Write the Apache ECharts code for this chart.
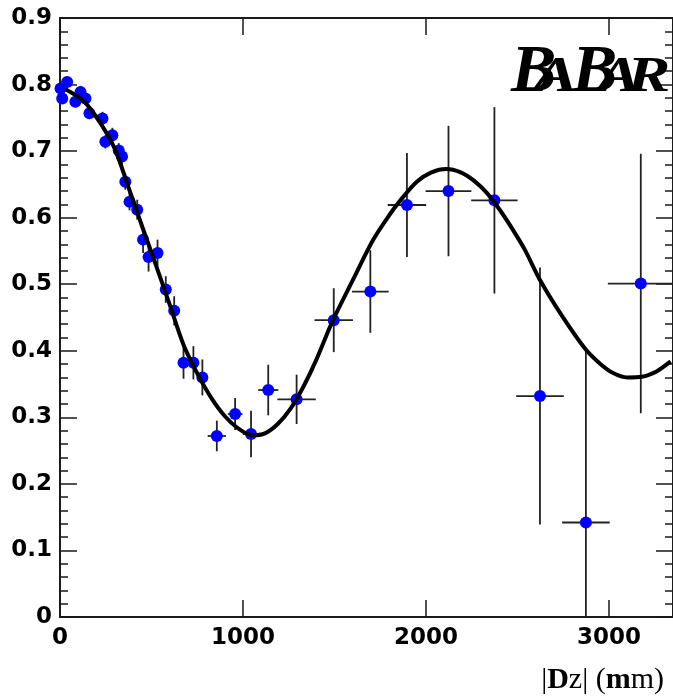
<!DOCTYPE html>
<html><head><meta charset="utf-8">
<script src="https://cdn.jsdelivr.net/npm/echarts@6/dist/echarts.min.js"></script>
<style>html,body{margin:0;padding:0;background:#fff}#c{width:673px;height:696px}</style>
</head><body><div id="c"></div>
<script>
// Tick labels
const xTickLabels = ['0', '1000', '2000', '3000'];
const yTickLabels = ['0', '0.1', '0.2', '0.3', '0.4', '0.5', '0.6', '0.7', '0.8', '0.9'];

// Data points (|Dz| bin centre, value) with errors
const pointX = [3, 39, 12, 84, 112, 139, 161, 232, 248, 286, 321, 339, 357, 380, 422, 454, 484, 533, 578, 624, 675, 729, 778, 857, 957, 1044, 1138, 1293, 1496, 1696, 1896, 2123, 2374, 2623, 2874, 3174];
const pointY = [0.794, 0.804, 0.779, 0.774, 0.789, 0.779, 0.757, 0.749, 0.714, 0.724, 0.701, 0.692, 0.654, 0.624, 0.612, 0.567, 0.541, 0.547, 0.492, 0.460, 0.382, 0.382, 0.360, 0.272, 0.305, 0.275, 0.341, 0.327, 0.446, 0.489, 0.619, 0.640, 0.626, 0.332, 0.142, 0.501];
const errX = [12, 12, 12, 12, 12, 12, 12, 15, 15, 15, 15, 15, 15, 20, 20, 20, 20, 25, 25, 25, 25, 25, 25, 50, 40, 45, 55, 105, 105, 100, 105, 125, 127, 130, 130, 180];
const errY = [0.008, 0.008, 0.008, 0.008, 0.009, 0.009, 0.009, 0.010, 0.010, 0.011, 0.011, 0.012, 0.012, 0.013, 0.015, 0.020, 0.022, 0.020, 0.020, 0.022, 0.024, 0.025, 0.027, 0.023, 0.024, 0.035, 0.038, 0.037, 0.048, 0.062, 0.078, 0.098, 0.140, 0.193, 0.257, 0.195];

// Fit curve
const fitX = [30, 130, 221, 300, 375, 450, 525, 600, 675, 750, 825, 900, 975, 1050, 1120, 1190, 1260, 1330, 1400, 1490, 1600, 1710, 1800, 1860, 1950, 2030, 2110, 2190, 2260, 2330, 2400, 2470, 2540, 2620, 2740, 2870, 2950, 3020, 3100, 3180, 3260, 3337];
const fitY = [0.793, 0.775, 0.742, 0.703, 0.645, 0.586, 0.528, 0.469, 0.409, 0.366, 0.330, 0.302, 0.283, 0.273, 0.276, 0.290, 0.313, 0.346, 0.386, 0.445, 0.506, 0.566, 0.604, 0.626, 0.654, 0.668, 0.673, 0.668, 0.656, 0.638, 0.613, 0.584, 0.552, 0.508, 0.454, 0.403, 0.381, 0.367, 0.360, 0.361, 0.369, 0.384];

const AX = '#1a1a1a';
const labelFont = {fontFamily: 'DejaVu Sans', fontWeight: 'bold', fontSize: 23, color: '#000'};

const chart = echarts.init(document.getElementById('c'), null, {renderer: 'canvas'});

const errData = pointX.map((x, i) => [x, pointY[i], errX[i], errY[i]]);
const ptData = pointX.map((x, i) => [x, pointY[i]]);
const fitData = fitX.map((x, i) => [x, fitY[i]]);

function xAxisDef(pos, showLabel) {
  return {
    type: 'value', min: 0, max: 3350, interval: 1000, position: pos,
    axisLine: {show: true, onZero: false, lineStyle: {color: AX, width: 2}},
    axisTick: {show: true, inside: true, length: 17, lineStyle: {color: AX, width: 1.5}},
    minorTick: {show: false},
    splitLine: {show: false},
    axisLabel: Object.assign({
      show: showLabel, margin: 10, showMaxLabel: false,
      formatter: v => { const i = Math.round(v / 1000); return (Math.abs(v - i * 1000) < 1e-6 && xTickLabels[i]) ? xTickLabels[i] : ''; }
    }, labelFont)
  };
}
function yAxisDef(pos, showLabel) {
  return {
    type: 'value', min: 0, max: 0.9, interval: 0.1, position: pos,
    axisLine: {show: true, onZero: false, lineStyle: {color: AX, width: 2}},
    axisTick: {show: true, inside: true, length: 17, lineStyle: {color: AX, width: 1.5}},
    minorTick: {show: true, splitNumber: 5, length: 8, lineStyle: {color: AX, width: 1.5}},
    splitLine: {show: false},
    minorSplitLine: {show: false},
    axisLabel: Object.assign({
      show: showLabel, margin: 8,
      formatter: v => yTickLabels[Math.round(v * 10)] || ''
    }, labelFont)
  };
}

chart.setOption({
  animation: false,
  backgroundColor: '#fff',
  grid: {left: 60, top: 18, width: 614, height: 599, containLabel: false},
  xAxis: [xAxisDef('bottom', true), xAxisDef('top', false)],
  yAxis: [yAxisDef('left', true), yAxisDef('right', false)],
  series: [
    {
      type: 'custom', xAxisIndex: 0, yAxisIndex: 0, clip: true, z: 2,
      data: errData,
      encode: {x: 0, y: 1},
      renderItem: function (params, api) {
        const x = api.value(0), y = api.value(1), ex = api.value(2), ey = api.value(3);
        const l = api.coord([x - ex, y]), r = api.coord([Math.min(x + ex, 3350), y]);
        const t = api.coord([x, y + ey]), b = api.coord([x, Math.max(y - ey, 0)]);
        const st = {stroke: '#222', lineWidth: 1.8};
        return {type: 'group', children: [
          {type: 'line', shape: {x1: l[0], y1: l[1], x2: r[0], y2: r[1]}, style: st},
          {type: 'line', shape: {x1: t[0], y1: t[1], x2: b[0], y2: b[1]}, style: st}
        ]};
      }
    },
    {
      type: 'scatter', xAxisIndex: 0, yAxisIndex: 0, z: 3,
      data: ptData, symbol: 'circle', symbolSize: 12,
      itemStyle: {color: '#0000ff', opacity: 1}
    },
    {
      type: 'line', xAxisIndex: 0, yAxisIndex: 0, z: 4,
      data: fitData, smooth: 0.3, showSymbol: false, symbol: 'none',
      lineStyle: {color: '#000', width: 4}
    }
  ],
  graphic: [
    {type: 'text', left: 511, top: 39, z: 10, style: {text: 'B', font: 'italic bold 68px "Liberation Serif"', fill: '#000'}},
    {type: 'text', x: 533, y: 53, z: 10, scaleX: 1.35, style: {text: 'A', font: 'italic bold 50px "Liberation Serif"', fill: '#000'}},
    {type: 'text', left: 572, top: 39, z: 10, style: {text: 'B', font: 'italic bold 68px "Liberation Serif"', fill: '#000'}},
    {type: 'text', x: 597, y: 53, z: 10, scaleX: 1.3, style: {text: 'A', font: 'italic bold 50px "Liberation Serif"', fill: '#000'}},
    {type: 'text', x: 627, y: 53, z: 10, scaleX: 1.3, style: {text: 'R', font: 'italic bold 50px "Liberation Serif"', fill: '#000'}},
    {type: 'text', right: 9, top: 665, z: 10, style: {
      text: '{a||}{d|D}{a|z| (}{d|m}{a|m)}',
      rich: {
        a: {fontFamily: 'Liberation Serif', fontSize: 30, fill: '#000', color: '#000'},
        d: {fontFamily: 'Liberation Serif', fontWeight: 'bold', fontSize: 30, fill: '#000', color: '#000'}
      }
    }}
  ]
});
</script>
</body></html>
